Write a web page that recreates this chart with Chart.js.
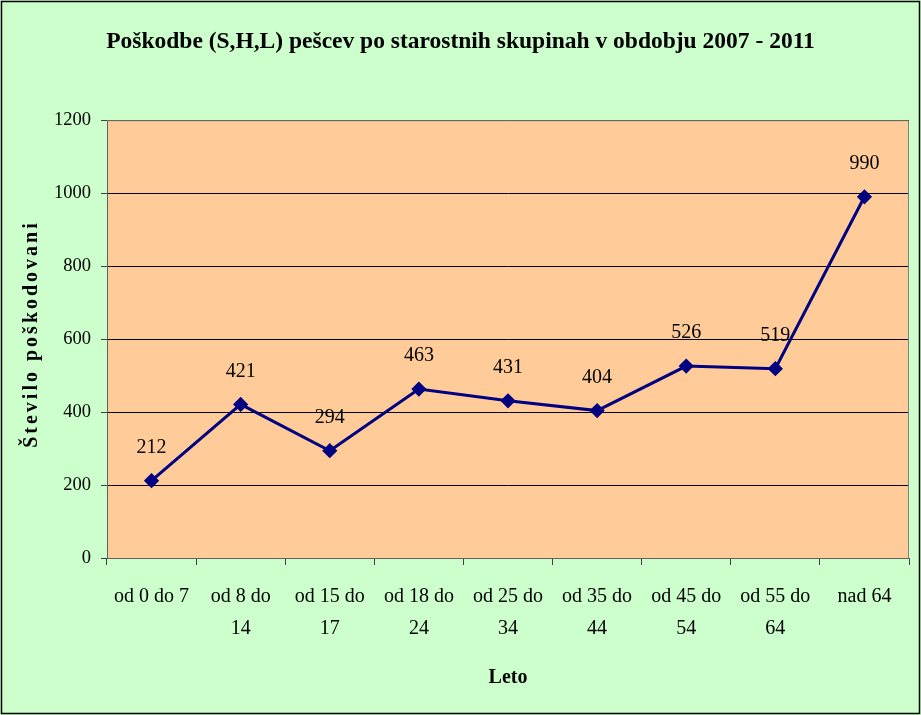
<!DOCTYPE html>
<html>
<head>
<meta charset="utf-8">
<script src="https://cdn.jsdelivr.net/npm/chart.js@4.4.1/dist/chart.umd.min.js"></script>
<style>
  html, body { margin: 0; padding: 0; background: #ccffcc; }
  #wrap { width: 921px; height: 715px; }
</style>
</head>
<body>
<div id="wrap"><canvas id="chart" width="921" height="715"></canvas></div>
<script>
'use strict'

// ---------- data ----------
var ageGroups = [
  ['od 0 do 7'], ['od 8 do', '14'], ['od 15 do', '17'], ['od 18 do', '24'],
  ['od 25 do', '34'], ['od 35 do', '44'], ['od 45 do', '54'], ['od 55 do', '64'], ['nad 64']
];
var injuries = [212, 421, 294, 463, 431, 404, 526, 519, 990];
var yTicks = [0, 200, 400, 600, 800, 1000, 1200];

var chartTitle = 'Poškodbe (S,H,L) pešcev po starostnih skupinah v obdobju 2007 - 2011';
var xTitle = 'Leto';
var yTitle = 'Število poškodovani';

var serif = '"Liberation Serif", "Times New Roman", serif';

// ---------- plugins ----------
// green page, black frame round it, peach plot area
var backgroundPlugin = {
  id: 'backgroundPlugin',
  beforeDraw: function(chart) {
    var ctx = chart.ctx;
    var a = chart.chartArea;
    ctx.save();
    ctx.fillStyle = '#ccffcc';
    ctx.fillRect(0, 0, chart.width, chart.height);
    ctx.strokeStyle = '#000000';
    ctx.lineWidth = 1.5;
    ctx.strokeRect(1.5, 1.5, chart.width - 3, chart.height - 3);
    ctx.fillStyle = '#ffcc99';
    ctx.fillRect(a.left, a.top, a.right - a.left, a.bottom - a.top);
    ctx.restore();
  },
  afterDraw: function(chart) {
    var ctx = chart.ctx;
    var a = chart.chartArea;
    ctx.save();
    ctx.strokeStyle = '#808080';
    ctx.lineWidth = 1;
    ctx.beginPath();
    ctx.moveTo(a.left, a.top + 0.5);
    ctx.lineTo(a.right - 0.5, a.top + 0.5);
    ctx.lineTo(a.right - 0.5, a.bottom);
    ctx.stroke();

    // y axis title, spaced out letters
    ctx.translate(32, 334);
    ctx.rotate(-Math.PI / 2);
    ctx.font = 'bold 20px ' + serif;
    ctx.letterSpacing = '3px';
    ctx.fillStyle = '#000000';
    ctx.textAlign = 'center';
    ctx.textBaseline = 'middle';
    ctx.fillText(yTitle, 0, 0);
    ctx.restore();
  }
};

// value labels above each point
var valueLabels = {
  id: 'valueLabels',
  afterDatasetsDraw: function(chart) {
    var ctx = chart.ctx;
    var meta = chart.getDatasetMeta(0);
    ctx.save();
    ctx.font = '20px ' + serif;
    ctx.fillStyle = '#000000';
    ctx.textAlign = 'center';
    ctx.textBaseline = 'middle';
    meta.data.forEach(function(pt, i) {
      ctx.fillText(String(injuries[i]), pt.x, pt.y - 33);
    });
    ctx.restore();
  }
};

// ---------- chart ----------
var ctx = document.getElementById('chart').getContext('2d');

var injuryChart = new Chart(ctx, {
  type: 'line',
  data: {
    labels: ageGroups,
    datasets: [{
      label: 'Poškodbe',
      data: injuries,
      borderColor: '#000080',
      backgroundColor: '#000080',
      borderWidth: 3,
      pointStyle: 'rectRot',
      pointRadius: 5.5,
      pointHoverRadius: 5.5,
      tension: 0
    }]
  },
  options: {
    responsive: false,
    animation: false,
    layout: { padding: { left: 12, right: 12, top: 0, bottom: 0 } },
    plugins: {
      legend: { display: false },
      tooltip: { enabled: false },
      title: {
        display: true,
        text: chartTitle,
        color: '#000000',
        font: { family: serif, size: 23.5, weight: 'bold', lineHeight: 1.2 },
        padding: { top: 28, bottom: 64 }
      }
    },
    scales: {
      x: {
        offset: true,
        grid: {
          offset: true,
          drawOnChartArea: false,
          drawTicks: true,
          tickLength: 7,
          tickColor: '#404040'
        },
        border: { color: '#606060', width: 1 },
        ticks: {
          color: '#000000',
          padding: 16,
          maxRotation: 0,
          autoSkip: false,
          font: { family: serif, size: 20, lineHeight: 1.6 }
        },
        title: {
          display: true,
          text: xTitle,
          color: '#000000',
          font: { family: serif, size: 20, weight: 'bold', lineHeight: 1.2 },
          padding: { top: 0, bottom: 25 }
        },
        afterFit: function(scale) { scale.height = 157; }
      },
      y: {
        min: yTicks[0],
        max: yTicks[yTicks.length - 1],
        afterBuildTicks: function(scale) {
          scale.ticks = yTicks.map(function(v) { return { value: v }; });
        },
        grid: {
          color: '#000000',
          lineWidth: 1,
          tickLength: 6,
          tickColor: '#404040'
        },
        border: { color: '#606060', width: 1 },
        ticks: {
          color: '#000000',
          padding: 10,
          font: { family: serif, size: 18.5 },
          callback: function(value) { return String(value); }
        },
        afterFit: function(scale) { scale.width = 95; }
      }
    }
  },
  plugins: [backgroundPlugin, valueLabels]
});
</script>
</body>
</html>
